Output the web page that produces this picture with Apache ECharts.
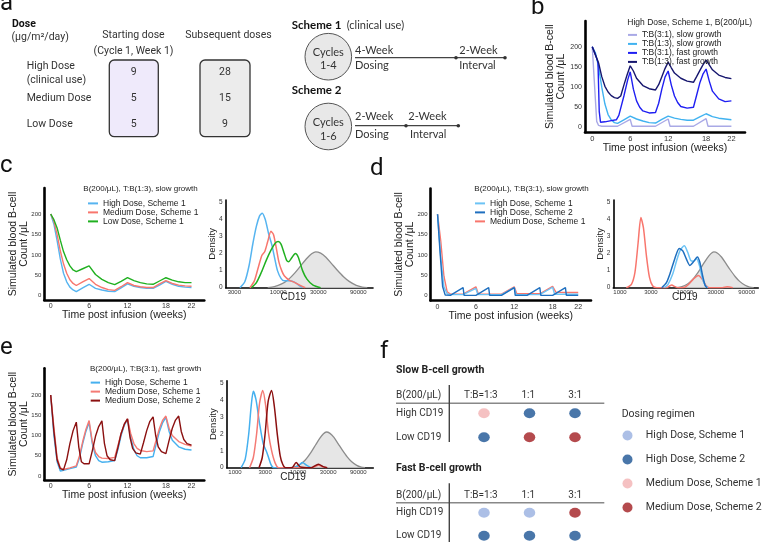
<!DOCTYPE html>
<html><head><meta charset="utf-8">
<script src="https://cdn.jsdelivr.net/npm/echarts@6/dist/echarts.min.js"></script>
<style>html,body{margin:0;padding:0;background:#fff}#c{width:762px;height:542px}</style>
</head><body><div id="c"></div>
<script>
// ================= DATA =================
const weekTicks = [0, 6, 12, 18, 22];
const countTicks = [0, 50, 100, 150, 200];
const densTicks = [0, 1, 2, 3, 4, 5];
const cd19TicksC = [3000, 10000, 30000, 90000];
const cd19TicksDE = [1000, 3000, 10000, 30000, 90000];

// Panel a
const doseLevels = ['High Dose\n(clinical use)', 'Medium Dose', 'Low Dose'];
const startingDose = [9, 5, 5];
const subsequentDose = [28, 15, 9];

// Panel b  [week, B cells/uL]
const b_TB31_slow = [[0,200],[0.3,120],[0.7,15],[1,5],[1.5,3],[4,3],[6,20],[6.3,3],[10,3],[12,21],[12.3,3],[16,3],[18,22],[18.3,3],[22,3]];
const b_TB13_slow = [[0,200],[0.5,185],[1,150],[1.5,100],[2,58],[2.5,32],[3,19],[3.5,12],[4,10],[5,19],[6,28],[7,21],[8,16],[9,12],[10,11],[11,20],[12,28],[13,23],[14,20],[15,18],[16,18],[17,26],[18,34],[19,27],[20,23],[21,21],[22,19]];
const b_TB31_fast = [[0,200],[0.5,180],[0.9,162],[1.1,40],[1.3,13],[2,14],[3,17],[3.8,19],[4.2,30],[5,78],[5.6,118],[6,138],[6.5,95],[7,66],[7.5,50],[8,41],[9,36],[10,37],[10.5,60],[11,95],[11.5,125],[12,140],[12.5,105],[13,78],[13.5,62],[14,52],[15,48],[16,50],[16.5,80],[17,110],[17.5,132],[18,145],[18.5,115],[19,90],[20,71],[21,64],[22,66]];
const b_TB13_fast = [[0,200],[0.5,180],[1,160],[1.5,126],[2,102],[2.5,88],[3,79],[3.5,74],[4,72],[4.5,78],[5,105],[5.5,130],[6,153],[6.5,140],[7,122],[8,104],[9,96],[10,93],[10.5,106],[11,126],[11.5,146],[12,162],[12.5,148],[13,135],[14,122],[15,115],[16,112],[16.5,126],[17,141],[17.5,155],[18,167],[18.5,155],[19,143],[20,130],[21,124],[22,121]];

// Panel c
const c_high = [[0,200],[0.5,175],[1,135],[1.5,90],[2,55],[2.5,34],[3,21],[3.5,14],[4,10],[5,19],[6,28],[7,18],[8,14],[9,11],[10,10],[11,19],[12,29],[13,23],[14,20],[15,18],[16,18],[17,26],[18,35],[19,28],[20,23],[21,21],[22,20]];
const c_med = [[0,200],[0.5,182],[1,150],[1.5,110],[2,78],[2.5,55],[3,39],[3.5,30],[4,25],[5,34],[6,42],[7,28],[8,20],[9,15],[10,13],[11,22],[12,32],[13,25],[14,22],[15,20],[16,20],[17,29],[18,37],[19,30],[20,26],[21,24],[22,23]];
const c_low = [[0,200],[0.5,186],[1,166],[1.5,136],[2,108],[2.5,88],[3,73],[3.5,63],[4,59],[5,66],[6,73],[7,52],[8,40],[9,32],[10,27],[11,35],[12,44],[13,37],[14,32],[15,29],[16,28],[17,36],[18,44],[19,38],[20,34],[21,32],[22,32]];

// Panel d
const d_highS1 = [[0,200],[0.5,95],[1,22],[1.5,5],[2,3],[4,3],[6,18],[6.3,3],[10,3],[12,20],[12.3,3],[16,3],[18,21],[18.3,4],[22,4]];
const d_highS2 = [[0,200],[0.4,105],[0.8,22],[1.2,2],[2,1],[4,20],[4.15,1],[6,1],[8,20],[8.15,1],[10,1],[12,20],[12.15,1],[14,1],[16,20],[16.15,1],[18,1],[20,20],[20.15,1],[22,1]];
const d_medS1 = [[0,200],[0.5,135],[1,48],[1.5,10],[2,4],[4,4],[6,22],[6.4,4],[10,4],[12,22],[12.4,5],[16,5],[18,23],[18.5,9],[20,8],[22,8]];

// Panel e
const e_highS1 = [[0,200],[0.5,100],[1,35],[1.5,12],[2,14],[3,18],[4,22],[4.5,45],[5,80],[5.5,110],[6,132],[6.5,80],[7,50],[7.5,38],[8,34],[9,35],[10,38],[10.5,65],[11,100],[11.5,125],[12,140],[12.5,95],[13,65],[13.5,50],[14,45],[15,45],[16,48],[16.5,80],[17,110],[17.5,132],[18,145],[18.5,110],[19,88],[20,72],[21,66],[22,64]];
const e_medS1 = [[0,200],[0.5,120],[1,45],[1.5,20],[2,16],[3,20],[4,25],[4.5,50],[5,85],[5.5,115],[6,137],[6.5,85],[7,58],[7.5,48],[8,44],[9,43],[10,46],[10.5,75],[11,105],[11.5,128],[12,141],[12.5,105],[13,80],[13.5,68],[14,63],[15,60],[16,62],[16.5,90],[17,118],[17.5,138],[18,148],[18.5,118],[19,100],[20,85],[21,78],[22,74]];
const e_medS2 = [[0,200],[0.5,110],[1,40],[1.5,18],[2,15],[2.5,40],[3,80],[3.5,112],[4,133],[4.4,70],[4.8,35],[5.2,30],[6,30],[6.5,62],[7,98],[7.5,122],[8,136],[8.4,80],[8.8,50],[9.3,40],[10,38],[10.5,70],[11,105],[11.5,128],[12,141],[12.4,95],[12.8,68],[13.3,57],[14,54],[14.5,82],[15,112],[15.5,135],[16,146],[16.4,100],[16.8,72],[17.3,60],[18,55],[18.5,88],[19,118],[19.5,138],[20,148],[20.4,110],[20.8,90],[21.3,80],[22,76]];

// Density panels  [CD19, density]
const cd19Reference = [[7500,0],[9000,0.06],[11000,0.22],[13000,0.45],[16000,0.9],[19000,1.35],[22000,1.72],[25000,1.98],[28000,2.1],[32000,2.02],[37000,1.78],[43000,1.42],[50000,1.05],[60000,0.64],[70000,0.37],[85000,0.14],[100000,0.04],[115000,0]];
const c2_high = [[3500,0],[4000,0.35],[4500,1.3],[5000,2.6],[5500,3.6],[6000,4.2],[6450,4.36],[7000,4.0],[7650,3.2],[8400,2.5],[9100,1.7],[9800,1.0],[10800,0.55],[11800,0.4],[13700,0.4],[16000,0.3],[17800,0.12],[19500,0]];
const c2_med = [[4600,0],[5200,0.4],[5800,1.2],[6400,1.9],[6900,2.1],[7500,2.7],[8200,3.3],[8800,3.1],[9500,2.3],[10200,1.5],[11000,1.0],[11800,0.7],[13500,0.45],[15800,0.3],[18000,0.15],[21000,0]];
const c2_low = [[4800,0],[5500,0.3],[6300,0.9],[7200,1.6],[8200,2.2],[9200,2.6],[10000,2.7],[10800,2.55],[11800,2.0],[12600,1.6],[13300,1.52],[14500,1.75],[16000,2.0],[17300,1.8],[19500,1.0],[22000,0.5],[26000,0.15],[32000,0]];
const d2_highS1 = [[4800,0],[5500,0.2],[6500,0.8],[7500,1.6],[8500,2.2],[9800,2.45],[11000,2.1],[12300,1.6],[13500,1.55],[15200,1.7],[16800,1.3],[18500,0.6],[20500,0.15],[22500,0]];
const d2_highS2 = [[4400,0],[5200,0.3],[6000,0.9],[7000,1.7],[8200,2.3],[9300,2.15],[10500,1.7],[12000,1.3],[13500,1.5],[15600,1.8],[17000,1.5],[18800,0.7],[20500,0.15],[22000,0]];
const d2_medS1 = [[1250,0],[1500,0.2],[1700,0.9],[1900,2.6],[2100,4.1],[2300,3.5],[2550,1.9],[2850,0.6],[3200,0.1],[3700,0],[5200,0],[5800,0.1],[6300,0.16],[6900,0.08],[7800,0],[10000,0.03],[11500,0.2],[13500,0.5],[16200,0.72],[18500,0.5],[21000,0.15],[24000,0],[38000,0],[45000,0.05],[55000,0]];
const e2_highS1 = [[1250,0],[1450,0.5],[1650,2.0],[1800,3.6],[1950,4.5],[2150,4.0],[2450,2.6],[2800,1.4],[3150,0.95],[3400,0.6],[3700,0.2],[4100,0],[8500,0],[10000,0.1],[11700,0.3],[13500,0.15],[16000,0]];
const e2_medS1 = [[1700,0],[1950,0.6],[2200,2.0],[2450,3.8],[2750,4.55],[3050,3.7],[3400,2.0],[3800,1.0],[4300,0.3],[4900,0],[17000,0],[21000,0.15],[25000,0.05],[28000,0]];
const e2_medS2 = [[2400,0],[2700,0.6],[3000,2.0],[3350,3.9],[3800,4.55],[4200,3.6],[4700,1.9],[5200,0.7],[5700,0.2],[6300,0],[8000,0],[9300,0.3],[10800,0.05],[16000,0],[21000,0.2],[25500,0.05],[29000,0]];

// Panel f
const fRatios = ['T:B=1:3', '1:1', '3:1'];
const fRows = ['High CD19', 'Low CD19'];
const regimens = ['High Dose, Scheme 1', 'High Dose, Scheme 2', 'Medium Dose, Scheme 1', 'Medium Dose, Scheme 2'];
const slowBest = [[2, 1, 1], [1, 3, 3]];   // regimen index per [row][ratio]
const fastBest = [[0, 0, 3], [1, 1, 1]];

// ================= BUILD =================
const SANS = '"Liberation Sans", Arial, sans-serif';
const ROB = 'Roboto, sans-serif';
const LATO = 'Lato, sans-serif';
const chart = echarts.init(document.getElementById('c'), null, {width: 762, height: 542, renderer: 'canvas'});
const grids = [], xAxes = [], yAxes = [], series = [], legends = [], graphics = [];
const stripName = n => n.split('#')[0];

function addGrid(box) {
  grids.push(Object.assign({containLabel: false, outerBoundsMode: 'none', show: false}, box));
  return grids.length - 1;
}
function lineAxes(box, xr, yr, big) {
  const gi = addGrid(box);
  xAxes.push({gridIndex: gi, type: 'value', min: xr[0], max: xr[1], splitLine: {show: false}, axisTick: {show: false},
    axisLine: {onZero: false, lineStyle: {color: '#000', width: 2.6}},
    axisLabel: {customValues: weekTicks, fontSize: big ? 7.5 : 7, color: '#333', margin: 3, fontFamily: SANS},
    name: 'Time post infusion (weeks)', nameLocation: 'middle', nameGap: 10, nameMoveOverlap: false,
    nameTextStyle: {fontSize: 10.5, color: '#222', fontFamily: SANS}});
  yAxes.push({gridIndex: gi, type: 'value', min: yr[0], max: yr[1], splitLine: {show: false}, axisTick: {show: false},
    axisLine: {onZero: false, lineStyle: {color: '#000', width: 2.6}},
    axisLabel: {customValues: countTicks, fontSize: big ? 7 : 6, color: '#333', margin: 3, fontFamily: SANS},
    name: 'Simulated blood B-cell\nCount /μL', nameLocation: 'middle', nameGap: big ? 18 : 15, nameMoveOverlap: false,
    nameTextStyle: {fontSize: 10.5, lineHeight: 11, color: '#222', fontFamily: SANS}});
  return xAxes.length - 1;
}
function densAxes(box, xr, ticks, ymax, nameShift) {
  const gi = addGrid(box);
  xAxes.push({gridIndex: gi, type: 'value', min: xr[0], max: xr[1], splitLine: {show: false}, axisTick: {show: false},
    axisLine: {onZero: false, lineStyle: {color: '#000', width: 1.6}},
    axisLabel: {customValues: ticks.map(v => Math.log10(v)), formatter: v => String(Math.round(Math.pow(10, v))),
      fontSize: 6, color: '#333', margin: 2, fontFamily: SANS},
    name: 'CD19', nameLocation: 'middle', nameGap: 5, nameMoveOverlap: false,
    nameTextStyle: {fontSize: 10, color: '#222', fontFamily: SANS, padding: [0, 2 * nameShift, 0, 0]}});
  yAxes.push({gridIndex: gi, type: 'value', min: 0, max: ymax, splitLine: {show: false}, axisTick: {show: false},
    axisLine: {onZero: false, lineStyle: {color: '#000', width: 1.6}},
    axisLabel: {customValues: densTicks, fontSize: 6.5, color: '#333', margin: 3, fontFamily: SANS},
    name: 'Density', nameLocation: 'middle', nameGap: 8, nameMoveOverlap: false,
    nameTextStyle: {fontSize: 9.5, color: '#222', fontFamily: SANS}});
  return xAxes.length - 1;
}
function line(name, data, color, ai, width) {
  series.push({type: 'line', name, data, xAxisIndex: ai, yAxisIndex: ai, showSymbol: false, symbol: 'none',
    lineStyle: {color, width: width || 1.4}, itemStyle: {color}, silent: true, z: 3});
}
function dens(name, data, color, ai, fill) {
  const s = {type: 'line', name, data: data.map(p => [Math.log10(p[0]), p[1]]), xAxisIndex: ai, yAxisIndex: ai,
    showSymbol: false, symbol: 'none', smooth: 0.25, lineStyle: {color, width: fill ? 1.3 : 1.5}, itemStyle: {color}, silent: true, z: fill ? 2 : 3};
  if (fill) s.areaStyle = {color: fill, opacity: 1};
  series.push(s);
}
function lineLegend(names, left, top, step, iw) {
  legends.push({data: names, orient: 'vertical', left, top, padding: 0, itemWidth: iw, itemHeight: 2, itemGap: 0,
    icon: 'rect', selectedMode: false, formatter: stripName,
    textStyle: {fontSize: 8.5, lineHeight: step, color: '#222', fontFamily: SANS}});
}
function T(x, y, text, o) {
  o = o || {};
  graphics.push({type: 'text', x, y, silent: true, z: 50, style: {text, fill: o.fill || '#333',
    fontSize: o.size || 10.5, fontFamily: o.family || ROB, fontWeight: o.weight || 'normal', lineHeight: o.lh,
    textAlign: o.align || 'left', align: o.align || 'left', textVerticalAlign: 'middle', verticalAlign: 'middle'}});
}
function R(x, y, w, h, fill, stroke, r) {
  graphics.push({type: 'rect', silent: true, z: 40, shape: {x, y, width: w, height: h, r: r || 0},
    style: {fill, stroke, lineWidth: 1.3}});
}
function L(x1, y1, x2, y2, stroke, w) {
  graphics.push({type: 'line', silent: true, z: 40, shape: {x1, y1, x2, y2}, style: {stroke, lineWidth: w || 1.2}});
}
function C(cx, cy, r, fill, stroke) {
  graphics.push({type: 'circle', silent: true, z: 40, shape: {cx, cy, r}, style: {fill, stroke: stroke || null, lineWidth: 1}});
}

// ---- panel labels
[['a', 0, 3.6], ['b', 531, 7.6], ['c', 0, 165.6], ['d', 370, 168.6], ['e', 0, 348], ['f', 380, 351.6]]
  .forEach(p => T(p[1], p[2], p[0], {size: 24, family: ROB, fill: '#111'}));

// ---- panel a : dose table
T(12, 24, 'Dose', {weight: 'bold', size: 10.5, fill: '#111'});
T(11.5, 37.5, '(μg/m²/day)', {size: 10.5});
T(133.5, 35.7, 'Starting dose', {align: 'center'});
T(133.5, 51.7, '(Cycle 1, Week 1)', {align: 'center'});
T(228.5, 35.7, 'Subsequent doses', {align: 'center'});
R(109.3, 60, 49, 76.7, '#efeafb', '#333', 5);
R(200, 60, 50, 76.7, '#ececec', '#333', 5);
const doseRowY = [72.3, 98.3, 124];
doseLevels.forEach((lab, i) => {
  if (i === 0) { T(26.7, 66.7, lab.split('\n')[0]); T(26.7, 80, lab.split('\n')[1]); }
  else T(26.7, doseRowY[i], lab);
  T(133.8, doseRowY[i], String(startingDose[i]), {align: 'center'});
  T(225, doseRowY[i], String(subsequentDose[i]), {align: 'center'});
});
// schemes
T(291.7, 25, 'Scheme 1', {family: LATO, weight: 'bold', size: 11.5, fill: '#111'});
T(346.7, 25, '(clinical use)', {family: LATO, size: 11});
T(291.7, 90, 'Scheme 2', {family: LATO, weight: 'bold', size: 11.5, fill: '#111'});
C(328.3, 56.7, 23.3, '#e8e8e8', '#555');
C(328.3, 126.5, 23.3, '#e8e8e8', '#555');
T(328.3, 52.3, 'Cycles', {family: LATO, size: 11, align: 'center'});
T(328.3, 65, '1-4', {family: LATO, size: 11, align: 'center'});
T(328.3, 122.3, 'Cycles', {family: LATO, size: 11, align: 'center'});
T(328.3, 136, '1-6', {family: LATO, size: 11, align: 'center'});
L(355, 57.7, 505, 57.7, '#444', 1.2); C(456, 57.7, 1.8, '#333'); C(505, 57.7, 1.8, '#333');
L(355, 125.7, 458.3, 125.7, '#444', 1.2); C(406, 125.7, 1.8, '#333'); C(458.3, 125.7, 1.8, '#333');
T(355, 50, '4-Week', {family: LATO, size: 11}); T(355, 65, 'Dosing', {family: LATO, size: 11});
T(459.3, 50, '2-Week', {family: LATO, size: 11}); T(459.3, 65, 'Interval', {family: LATO, size: 11});
T(355, 116.7, '2-Week', {family: LATO, size: 11}); T(355, 134.3, 'Dosing', {family: LATO, size: 11});
T(408.3, 116.7, '2-Week', {family: LATO, size: 11}); T(410, 134.3, 'Interval', {family: LATO, size: 11});

// ---- panel b
let ai = lineAxes({left: 585, top: 21, width: 160, height: 111.3}, [-1.15, 24.15], [-12, 264], true);
const bNames = ['T:B(3:1), slow growth', 'T:B(1:3), slow growth', 'T:B(3:1), fast growth', 'T:B(1:3), fast growth'];
line(bNames[0], b_TB31_slow, '#a9a9e6', ai);
line(bNames[1], b_TB13_slow, '#40b2f0', ai);
line(bNames[2], b_TB31_fast, '#1f1ff2', ai);
line(bNames[3], b_TB13_fast, '#16166e', ai);
T(627.3, 22.3, 'High Dose, Scheme 1, B(200/μL)', {family: SANS, size: 8.5, fill: '#222'});
lineLegend(bNames, 628, 30.4, 7.2, 9);

// ---- panel c
ai = lineAxes({left: 44.3, top: 188, width: 160, height: 112}, [-1, 24], [-10.5, 263.6]);
const cNames = ['High Dose, Scheme 1#c', 'Medium Dose, Scheme 1#c', 'Low Dose, Scheme 1#c'];
const cCols = ['#56b4f0', '#f8766d', '#20b020'];
line(cNames[0], c_high, cCols[0], ai); line(cNames[1], c_med, cCols[1], ai); line(cNames[2], c_low, cCols[2], ai);
T(83.3, 189, 'B(200/μL), T:B(1:3), slow growth', {family: SANS, size: 8, fill: '#222'});
lineLegend(cNames, 88, 198.9, 6.7, 10);
ai = densAxes({left: 225.7, top: 200, width: 147.3, height: 87.7}, [3.3746, 5.129], cd19TicksC, 5.13, 6);
dens('ref#c2', cd19Reference, '#8c8c8c', ai, '#e6e6e6');
dens('High#c2', c2_high, cCols[0], ai); dens('Med#c2', c2_med, cCols[1], ai); dens('Low#c2', c2_low, cCols[2], ai);

// ---- panel d
ai = lineAxes({left: 430.5, top: 188.5, width: 160.5, height: 112}, [-1.1, 24], [-11.5, 263]);
const dNames = ['High Dose, Scheme 1#d', 'High Dose, Scheme 2#d', 'Medium Dose, Scheme 1#d'];
const dCols = ['#6cc3f5', '#1f6fbf', '#f8766d'];
line(dNames[2], d_medS1, dCols[2], ai); line(dNames[0], d_highS1, dCols[0], ai); line(dNames[1], d_highS2, dCols[1], ai);
T(474.3, 189, 'B(200/μL), T:B(3:1), slow growth', {family: SANS, size: 8, fill: '#222'});
lineLegend(dNames, 475, 198.9, 6.7, 10);
ai = densAxes({left: 613.3, top: 200, width: 145, height: 87.7}, [2.8967, 5.133], cd19TicksDE, 5.13, 1);
dens('ref#d2', cd19Reference, '#8c8c8c', ai, '#e6e6e6');
dens('MedS1#d2', d2_medS1, dCols[2], ai); dens('HighS1#d2', d2_highS1, dCols[0], ai); dens('HighS2#d2', d2_highS2, dCols[1], ai);

// ---- panel e
ai = lineAxes({left: 44.3, top: 368.3, width: 160, height: 111.7}, [-1, 24], [-10, 266]);
const eNames = ['High Dose, Scheme 1#e', 'Medium Dose, Scheme 1#e', 'Medium Dose, Scheme 2#e'];
const eCols = ['#45b0ef', '#f47a74', '#8b1010'];
line(eNames[0], e_highS1, eCols[0], ai); line(eNames[1], e_medS1, eCols[1], ai); line(eNames[2], e_medS2, eCols[2], ai);
T(90, 369, 'B(200/μL), T:B(3:1), fast growth', {family: SANS, size: 8, fill: '#222'});
lineLegend(eNames, 90.7, 378.1, 7.2, 9.3);
ai = densAxes({left: 226.7, top: 380.7, width: 146.6, height: 87}, [2.868, 5.192], cd19TicksDE, 5.12, 7);
dens('ref#e2', cd19Reference, '#8c8c8c', ai, '#e6e6e6');
dens('HighS1#e2', e2_highS1, eCols[0], ai); dens('MedS1#e2', e2_medS1, eCols[1], ai); dens('MedS2#e2', e2_medS2, eCols[2], ai);

// ---- panel f
const fCols = ['#97afe0', '#1b5494', '#f2b1b3', '#a11d21'];
function fTable(best, box, key) {
  const gi = addGrid(box);
  xAxes.push({gridIndex: gi, type: 'category', data: fRatios, show: false});
  yAxes.push({gridIndex: gi, type: 'category', data: fRows, inverse: true, show: false});
  const idx = xAxes.length - 1;
  regimens.forEach((reg, r) => {
    const pts = [];
    best.forEach((row, ri) => row.forEach((v, ci) => { if (v === r) pts.push([ci, ri]); }));
    series.push({type: 'scatter', name: reg + '#' + key, data: pts, xAxisIndex: idx, yAxisIndex: idx,
      symbol: 'circle', symbolSize: [11.5, 10], itemStyle: {color: fCols[r]}, silent: true, z: 5});
  });
}
const colX = [484, 528.3, 575.2];
function fHeader(yTitle, title, yHead, yLine, yRows, vTop, vBot) {
  T(396, yTitle, title, {weight: 'bold', size: 10.5, fill: '#222'});
  T(396, yHead, 'B(200/μL)', {size: 10});
  fRatios.forEach((r, i) => T(colX[i] - (i === 0 ? 3.2 : 0), yHead, r, {size: 10, align: 'center'}));
  fRows.forEach((r, i) => T(396, yRows[i], r, {size: 10}));
  L(396, yLine, 604.3, yLine, '#888', 1.4);
  L(449.3, vTop, 449.3, vBot, '#444', 1.4);
}
fHeader(370, 'Slow B-cell growth', 395.7, 403.3, [413.3, 437.3], 385, 442);
fHeader(468.3, 'Fast B-cell growth', 495, 502.7, [512.7, 535.5], 483.3, 542);
fTable(slowBest, {left: 461.25, top: 401.3, width: 136.5, height: 48}, 'fslow');
fTable(fastBest, {left: 461.25, top: 501.2, width: 136.5, height: 46}, 'ffast');
T(621.7, 414, 'Dosing regimen', {size: 10.5});
legends.push({data: regimens.map(r => r + '#fslow'), orient: 'vertical', left: 622.5, top: 430, padding: 0,
  itemWidth: 11.5, itemHeight: 10, itemGap: 13, icon: 'circle', selectedMode: false, formatter: stripName,
  textStyle: {fontSize: 10.5, lineHeight: 10, color: '#333', fontFamily: ROB, padding: [0, 0, 0, 7.6]}});

chart.setOption({
  animation: false,
  backgroundColor: '#fff',
  textStyle: {fontFamily: SANS},
  grid: grids, xAxis: xAxes, yAxis: yAxes, series, legend: legends,
  graphic: {elements: graphics}
});
</script></body></html>
